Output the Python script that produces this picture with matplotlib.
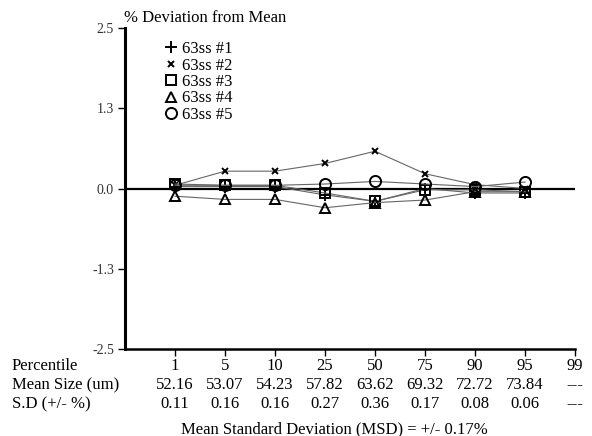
import matplotlib
matplotlib.use("Agg")
import matplotlib.pyplot as plt
import matplotlib.transforms as mtransforms

plt.rcParams['font.family'] = ['Liberation Serif', 'DejaVu Serif']

percentiles = ["1", "5", "10", "25", "50", "75", "90", "95", "99"]
mean_size = ["52.16", "53.07", "54.23", "57.82", "63.62", "69.32", "72.72", "73.84", "---"]
sd = ["0.11", "0.16", "0.16", "0.27", "0.36", "0.17", "0.08", "0.06", "---"]

series_names = ["63ss #1", "63ss #2", "63ss #3", "63ss #4", "63ss #5"]
s1 = [0.03, 0.03, 0.03, -0.10, -0.20, 0.00, -0.07, -0.07]
s2 = [0.05, 0.27, 0.27, 0.39, 0.58, 0.23, 0.06, 0.00]
s3 = [0.07, 0.05, 0.05, -0.07, -0.20, -0.02, -0.02, -0.05]
s4 = [-0.12, -0.17, -0.17, -0.30, -0.22, -0.18, -0.05, -0.05]
s5 = [0.05, 0.05, 0.05, 0.07, 0.11, 0.07, 0.03, 0.10]
series = [s1, s2, s3, s4, s5]

# styles (kept separate from data)
markers = ['+', 'x', 's', '^', 'o']
msizes = [8, 5, 6.5, 7.5, 8]

yticks = [2.5, 1.25, 0.0, -1.25, -2.5]
ytick_labels = ["2.5", "1.3", "0.0", "-1.3", "-2.5"]

W, H = 592, 436
fig = plt.figure(figsize=(W/100, H/100), dpi=100)
ax = fig.add_axes([125/W, 1-349/H, (575-125)/W, (349-28)/H])

xpos = list(range(1, len(percentiles) + 1))
handles = []
for vals, m, ms, name in zip(series, markers, msizes, series_names):
    h, = ax.plot(xpos[:len(vals)], vals, color='#666666', lw=0.8,
                 marker=m, markersize=ms, markerfacecolor='none',
                 markeredgecolor='black', markeredgewidth=1.4, label=name, zorder=3)
    handles.append(h)

ax.set_xlim(0, 9)
ax.set_ylim(-2.5, 2.5)
ax.axhline(0, color='black', lw=1.6, zorder=2)

for s in ['top', 'right']:
    ax.spines[s].set_visible(False)
ax.spines['left'].set_linewidth(2.2)
ax.spines['bottom'].set_linewidth(1.8)

ax.set_yticks(yticks)
ax.set_yticklabels(ytick_labels, fontsize=10, color='#333333')
ax.tick_params(axis='y', direction='out', length=5, width=1, pad=3)
ax.set_xticks(xpos)
ax.set_xticklabels([])
ax.tick_params(axis='x', direction='out', length=5, width=1)

trans = mtransforms.blended_transform_factory(ax.transData, fig.transFigure)
fs = 12
rows = [("Percentile", percentiles, 366), ("Mean Size (um)", mean_size, 385), ("S.D (+/- %)", sd, 404)]
for label, vals, ypix in rows:
    yf = 1 - ypix/H
    fig.text(12/W, yf, label, fontsize=fs, va='center', ha='left')
    for x, v in zip(xpos, vals):
        ax.text(x, yf, v, transform=trans, fontsize=fs, ha='center', va='center')

fig.text(334/W, 1-429/H, "Mean Standard Deviation (MSD) = +/- 0.17%", fontsize=fs, ha='center', va='center')
fig.text(124/W, 1-18/H, "% Deviation from Mean", fontsize=fs, ha='left', va='center')

leg = fig.legend(handles=handles, loc='upper left', bbox_to_anchor=(164/W, 1-41/H),
                 frameon=False, fontsize=fs, handlelength=0.8, handletextpad=0.25,
                 labelspacing=0.03, borderaxespad=0, borderpad=0)
for h in leg.legend_handles:
    h.set_linestyle('none')

fig.savefig("out.png", dpi=100)
